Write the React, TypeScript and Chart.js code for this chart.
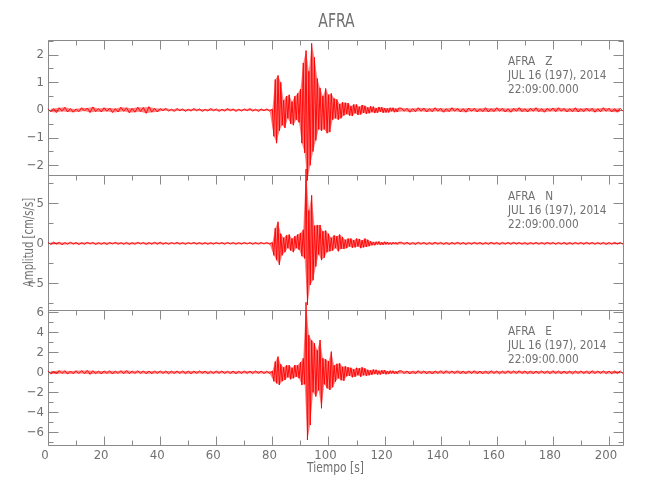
import React, { useEffect, useRef } from 'react';
import { Chart, registerables } from 'chart.js';

Chart.register(...registerables);

// ---------------- data ----------------
const TITLE = 'AFRA';
const X_TITLE = 'Tiempo [s]';
const Y_TITLE = 'Amplitud [cm/s/s]';
const STATION = 'AFRA';
const COMPONENTS = ['Z', 'N', 'E'];
const DATE_LINE = 'JUL 16 (197), 2014';
const TIME_LINE = '22:09:00.000';

const X_MIN = 0;
const X_MAX = 205;
const xTicks = [0, 20, 40, 60, 80, 100, 120, 140, 160, 180, 200];
const xMinorTicks = [10, 30, 50, 70, 90, 110, 130, 150, 170, 190];

// sampling: pre-event every 1 s from 0 s, event every 0.5 s from 80.5 s, coda every 1 s from 126 s
const PRE_START = 0;
const PRE_STEP = 1;
const EVENT_START = 80.5;
const EVENT_STEP = 0.5;
const CODA_START = 126;
const CODA_STEP = 1;

// Z component
const zRange = [-2.35, 2.53];
const zTicks = [-2, -1, 0, 1, 2];
const zMinorTicks = [-1.5, -0.5, 0.5, 1.5, 2.5];
const zPre = [
  0.04, -0.07, 0.05, -0.09, 0.08, -0.05, 0.1, -0.07, 0.05, -0.08,
  0.04, -0.06, 0.08, -0.04, 0.07, -0.09, 0.11, -0.06, 0.05, -0.07,
  0.08, -0.05, 0.07, -0.09, 0.05, -0.07, 0.1, -0.05, 0.08, -0.1,
  0.06, -0.08, 0.1, -0.06, 0.09, -0.12, 0.12, -0.08, 0.06, -0.07,
  0.05, -0.03, 0.06, -0.04, 0.03, -0.05, 0.05, -0.03, 0.04, -0.05,
  0.03, -0.04, 0.05, -0.03, 0.04, -0.05, 0.03, -0.04, 0.05, -0.03,
  0.04, -0.05, 0.03, -0.04, 0.05, -0.03, 0.04, -0.05, 0.03, -0.04,
  0.04, -0.03, 0.05, -0.04, 0.03, -0.05, 0.04, -0.03, 0.04, -0.04,
  0.03,
];
const zEvent = [
  -0.95, 1.1, -1.2, 1.25, -0.75, 1.0, -0.55, 0.35, -0.65, 0.5,
  -0.3, 0.55, -0.5, 0.3, -0.55, 0.5, -0.35, 0.6, -0.45, 0.75,
  -1.2, 1.7, -1.55, 2.15, -2.55, 1.4, -2.0, 2.41, -1.5, 1.9,
  -1.1, 1.14, -0.7, 0.8, -0.75, 0.5, -0.7, 0.78, -0.84, 0.55,
  -0.8, 0.6, -0.35, 0.42, -0.3, 0.38, -0.35, 0.22, -0.3, 0.28,
  -0.2, 0.26, -0.15, 0.25, -0.2, 0.14, -0.22, 0.2, -0.12, 0.2,
  -0.18, 0.12, -0.16, 0.18, -0.1, 0.15, -0.14, 0.09, -0.12, 0.13,
  -0.08, 0.12, -0.11, 0.07, -0.1, 0.11, -0.06, 0.1, -0.1, 0.07,
  -0.09, 0.06, -0.09, 0.08, -0.05, 0.08, -0.08, 0.05, -0.07, 0.07,
];
const zCoda = [
  0.07, -0.05, 0.06, -0.08, 0.05, -0.06, 0.08, -0.05, 0.07, -0.07,
  0.05, -0.06, 0.08, -0.05, 0.06, -0.08, 0.05, -0.06, 0.08, -0.05,
  0.06, -0.07, 0.05, -0.08, 0.07, -0.05, 0.06, -0.07, 0.05, -0.06,
  0.08, -0.07, 0.05, -0.06, 0.08, -0.05, 0.06, -0.07, 0.05, -0.08,
  0.06, -0.05, 0.08, -0.06, 0.05, -0.07, 0.06, -0.05, 0.08, -0.06,
  0.05, -0.08, 0.06, -0.05, 0.07, -0.06, 0.08, -0.05, 0.06, -0.07,
  0.05, -0.06, 0.08, -0.07, 0.05, -0.06, 0.07, -0.05, 0.06, -0.08,
  0.05, -0.06, 0.08, -0.05, 0.06, -0.07, 0.05, -0.08, 0.06, -0.05,
];

// N component
const nRange = [-8.33, 8.54];
const nTicks = [-5, 0, 5];
const nMinorTicks = [-7.5, -2.5, 2.5, 7.5];
const nPre = [
  0.12, -0.16, 0.15, -0.1, 0.14, -0.17, 0.1, -0.12, 0.14, -0.1,
  0.11, -0.14, 0.09, -0.12, 0.13, -0.09, 0.12, -0.14, 0.09, -0.12,
  0.1, -0.13, 0.12, -0.09, 0.13, -0.11, 0.09, -0.12, 0.11, -0.13,
  0.09, -0.12, 0.13, -0.09, 0.11, -0.13, 0.1, -0.11, 0.14, -0.12,
  0.15, -0.12, 0.09, -0.12, 0.1, -0.09, 0.12, -0.1, 0.09, -0.12,
  0.1, -0.09, 0.12, -0.1, 0.09, -0.11, 0.1, -0.12, 0.09, -0.1,
  0.11, -0.09, 0.1, -0.11, 0.12, -0.09, 0.1, -0.11, 0.09, -0.1,
  0.11, -0.09, 0.1, -0.12, 0.09, -0.1, 0.11, -0.09, 0.1, -0.1,
  0.1,
];
const nEvent = [
  -1.5, 1.9, -2.1, 2.7, -2.7, 1.2, -1.5, 0.7, -1.1, 1.0,
  -0.6, 1.1, -0.9, 0.6, -1.1, 0.9, -0.6, 1.1, -0.8, 1.3,
  -1.6, 1.7, -1.9, 9.3, -7.7, 4.1, -5.2, 6.0, -4.6, 2.2,
  -2.9, 2.3, -1.4, 2.3, -2.1, 1.5, -1.8, 1.6, -1.1, 1.2,
  -1.0, 0.7, -0.9, 1.0, -0.6, 0.9, -1.0, 1.1, -0.7, 0.8,
  -0.7, 0.45, -0.6, 0.6, -0.4, 0.6, -0.55, 0.4, -0.5, 0.6,
  -0.4, 0.55, -0.6, 0.4, -0.5, 0.6, -0.45, 0.45, -0.35, 0.25,
  -0.25, 0.18, -0.25, 0.2, -0.14, 0.22, -0.2, 0.14, -0.18, 0.2,
  -0.13, 0.16, -0.15, 0.11, -0.15, 0.14, -0.1, 0.13, -0.13, 0.12,
];
const nCoda = [
  0.14, -0.12, 0.13, -0.15, 0.11, -0.13, 0.14, -0.11, 0.12, -0.14,
  0.11, -0.13, 0.14, -0.11, 0.12, -0.13, 0.11, -0.14, 0.12, -0.11,
  0.13, -0.12, 0.11, -0.13, 0.1, -0.12, 0.13, -0.1, 0.12, -0.13,
  0.1, -0.12, 0.13, -0.1, 0.11, -0.13, 0.12, -0.1, 0.11, -0.12,
  0.13, -0.1, 0.11, -0.12, 0.1, -0.13, 0.11, -0.1, 0.12, -0.11,
  0.1, -0.12, 0.13, -0.1, 0.11, -0.12, 0.1, -0.11, 0.12, -0.13,
  0.1, -0.11, 0.12, -0.1, 0.11, -0.12, 0.13, -0.1, 0.11, -0.12,
  0.1, -0.11, 0.12, -0.13, 0.1, -0.11, 0.12, -0.1, 0.11, -0.12,
];

// E component
const eRange = [-7.27, 6.23];
const eTicks = [-6, -4, -2, 0, 2, 4, 6];
const eMinorTicks = [-7, -5, -3, -1, 1, 3, 5];
const ePre = [
  0.15, -0.18, 0.13, -0.16, 0.17, -0.13, 0.15, -0.18, 0.13, -0.15,
  0.16, -0.13, 0.17, -0.15, 0.19, -0.2, 0.16, -0.14, 0.13, -0.16,
  0.14, -0.12, 0.15, -0.16, 0.13, -0.12, 0.16, -0.14, 0.17, -0.14,
  0.13, -0.12, 0.15, -0.13, 0.14, -0.15, 0.12, -0.14, 0.13, -0.12,
  0.14, -0.12, 0.13, -0.15, 0.12, -0.13, 0.14, -0.12, 0.13, -0.14,
  0.12, -0.14, 0.13, -0.12, 0.14, -0.11, 0.13, -0.14, 0.11, -0.13,
  0.12, -0.11, 0.14, -0.12, 0.11, -0.13, 0.12, -0.14, 0.11, -0.12,
  0.13, -0.11, 0.12, -0.13, 0.14, -0.11, 0.12, -0.13, 0.11, -0.12,
  0.12,
];
const eEvent = [
  -0.9, 1.07, -1.1, 1.57, -1.27, 0.8, -0.9, 0.5, -0.77, 0.7,
  -0.5, 0.7, -0.7, 0.45, -0.6, 0.73, -0.45, 0.7, -0.6, 1.0,
  -1.27, 1.4, -1.2, 7.0, -6.77, 3.73, -5.27, 3.2, -2.0, 2.9,
  -2.43, 2.2, -1.8, 3.23, -3.6, 1.4, -1.2, 1.3, -1.6, 1.1,
  -1.77, 2.07, -1.5, 0.7, -0.93, 0.85, -0.6, 0.9, -0.8, 0.55,
  -0.85, 0.6, -0.4, 0.5, -0.35, 0.45, -0.5, 0.3, -0.45, 0.45,
  -0.3, 0.4, -0.45, 0.5, -0.3, 0.4, -0.35, 0.25, -0.3, 0.2,
  -0.25, 0.28, -0.18, 0.25, -0.22, 0.16, -0.22, 0.2, -0.15, 0.22,
  -0.2, 0.13, -0.18, 0.16, -0.12, 0.15, -0.15, 0.1, -0.14, 0.14,
];
const eCoda = [
  0.15, -0.13, 0.14, -0.16, 0.12, -0.14, 0.16, -0.13, 0.14, -0.15,
  0.13, -0.16, 0.14, -0.12, 0.15, -0.14, 0.16, -0.12, 0.14, -0.13,
  0.15, -0.14, 0.12, -0.15, 0.14, -0.12, 0.15, -0.14, 0.12, -0.15,
  0.13, -0.14, 0.15, -0.12, 0.13, -0.15, 0.12, -0.13, 0.15, -0.12,
  0.14, -0.12, 0.15, -0.13, 0.12, -0.14, 0.13, -0.15, 0.12, -0.13,
  0.14, -0.12, 0.13, -0.14, 0.15, -0.12, 0.13, -0.14, 0.12, -0.13,
  0.12, -0.15, 0.13, -0.12, 0.14, -0.13, 0.12, -0.14, 0.15, -0.12,
  0.13, -0.12, 0.14, -0.13, 0.12, -0.15, 0.13, -0.12, 0.14, -0.13,
];

// ---------------- styling ----------------
const FONT = "'DejaVu Sans Condensed', 'Liberation Sans', sans-serif";
const TEXT_COLOR = '#707070';
const FRAME_COLOR = '#8a8a8a';
const TRACE_COLOR = 'rgba(255,0,0,0.92)';
const ENVELOPE_COLOR = 'rgba(255,30,30,0.55)';

type Pt = { x: number; y: number };

function buildSeries(pre: number[], ev: number[], coda: number[]) {
  const pts: Pt[] = [];
  pre.forEach((v, i) => pts.push({ x: PRE_START + PRE_STEP * i, y: v }));
  ev.forEach((v, i) => pts.push({ x: EVENT_START + EVENT_STEP * i, y: v }));
  coda.forEach((v, i) => pts.push({ x: CODA_START + CODA_STEP * i, y: v }));
  return pts;
}

const fmt = (v: number) => (v < 0 ? '\u2212' + Math.abs(v) : String(v));

const panels = [
  { id: 'yZ', range: zRange, ticks: zTicks, minor: zMinorTicks, weight: 3 },
  { id: 'yN', range: nRange, ticks: nTicks, minor: nMinorTicks, weight: 2 },
  { id: 'yE', range: eRange, ticks: eTicks, minor: eMinorTicks, weight: 1 },
];

function drawNarrowText(ctx: CanvasRenderingContext2D, text: string, x: number, y: number, sx: number, rot = 0) {
  ctx.save();
  ctx.translate(x, y);
  if (rot) ctx.rotate(rot);
  ctx.scale(sx, 1);
  ctx.fillText(text, 0, 0);
  ctx.restore();
}

const framePlugin = {
  id: 'seisFrame',
  beforeDatasetsDraw(chart: any) {
    const { ctx, chartArea } = chart;
    const xs = chart.scales.x;
    const L = Math.round(chartArea.left) + 0.5;
    const R = Math.round(chartArea.right) + 0.5;
    ctx.save();
    ctx.strokeStyle = FRAME_COLOR;
    ctx.lineWidth = 1;
    panels.forEach((p, idx) => {
      const s = chart.scales[p.id];
      const top = Math.round(s.top) + 0.5;
      const bot = Math.round(s.bottom) + 0.5;
      ctx.beginPath();
      ctx.rect(L, top, R - L, bot - top);
      ctx.stroke();
      const drawX = (y0: number, dir: number) => {
        xTicks.forEach((v) => {
          const x = Math.round(xs.getPixelForValue(v)) + 0.5;
          ctx.beginPath();
          ctx.moveTo(x, y0);
          ctx.lineTo(x, y0 + dir * 9);
          ctx.stroke();
        });
        xMinorTicks.forEach((v) => {
          const x = Math.round(xs.getPixelForValue(v)) + 0.5;
          ctx.beginPath();
          ctx.moveTo(x, y0);
          ctx.lineTo(x, y0 + dir * 5);
          ctx.stroke();
        });
      };
      drawX(top, 1);
      if (idx === panels.length - 1) drawX(bot, -1);
      const drawY = (vals: number[], len: number) => {
        vals.forEach((v) => {
          const y = Math.round(s.getPixelForValue(v)) + 0.5;
          if (y < top - 0.1 || y > bot + 0.1) return;
          ctx.beginPath();
          ctx.moveTo(L, y);
          ctx.lineTo(L + len, y);
          ctx.moveTo(R, y);
          ctx.lineTo(R - len, y);
          ctx.stroke();
        });
      };
      drawY(p.ticks, 10);
      drawY(p.minor, 5);
    });
    ctx.restore();
  },
  afterDraw(chart: any) {
    const { ctx, chartArea } = chart;
    const cx = (chartArea.left + chartArea.right) / 2;
    ctx.save();
    ctx.fillStyle = TEXT_COLOR;
    ctx.textAlign = 'center';
    ctx.textBaseline = 'middle';
    ctx.font = `20px ${FONT}`;
    drawNarrowText(ctx, TITLE, cx + 1, 22, 0.78);
    ctx.font = `14px ${FONT}`;
    drawNarrowText(ctx, X_TITLE, cx, 468, 0.85);
    ctx.font = `14px ${FONT}`;
    drawNarrowText(ctx, Y_TITLE, 29, (chartArea.top + chartArea.bottom) / 2, 0.8, -Math.PI / 2);
    ctx.textAlign = 'left';
    ctx.font = `13px ${FONT}`;
    panels.forEach((p, idx) => {
      const s = chart.scales[p.id];
      const x = chartArea.right - 115;
      drawNarrowText(ctx, `${STATION}   ${COMPONENTS[idx]}`, x, s.top + 22, 0.9);
      drawNarrowText(ctx, DATE_LINE, x, s.top + 35.5, 0.9);
      drawNarrowText(ctx, TIME_LINE, x, s.top + 49.5, 0.9);
    });
    ctx.restore();
  },
};

export default function App() {
  const canvasRef = useRef<HTMLCanvasElement | null>(null);

  useEffect(() => {
    const canvas = canvasRef.current;
    if (!canvas) return;
    const series = [
      buildSeries(zPre, zEvent, zCoda),
      buildSeries(nPre, nEvent, nCoda),
      buildSeries(ePre, eEvent, eCoda),
    ];

    const datasets: any[] = [];
    series.forEach((d, i) => {
      const upper = d.filter((p) => p.y >= 0);
      const lower = d.filter((p) => p.y < 0);
      datasets.push({
        data: d,
        yAxisID: panels[i].id,
        borderColor: TRACE_COLOR,
        borderWidth: 1,
        pointRadius: 0,
        tension: 0,
        fill: false,
        clip: false,
        order: 0,
      });
      datasets.push({
        data: upper,
        yAxisID: panels[i].id,
        borderColor: 'rgba(0,0,0,0)',
        borderWidth: 0,
        pointRadius: 0,
        tension: 0,
        backgroundColor: ENVELOPE_COLOR,
        fill: '+1',
        order: 1,
      });
      datasets.push({
        data: lower,
        yAxisID: panels[i].id,
        borderColor: 'rgba(0,0,0,0)',
        borderWidth: 0,
        pointRadius: 0,
        tension: 0,
        fill: false,
        order: 1,
      });
    });

    const yScales: any = {};
    panels.forEach((p) => {
      yScales[p.id] = {
        type: 'linear',
        position: 'left',
        stack: 'panels',
        stackWeight: 1,
        weight: p.weight,
        min: p.range[0],
        max: p.range[1],
        grid: { display: false, drawTicks: false },
        border: { display: false },
        afterBuildTicks: (s: any) => {
          s.ticks = p.ticks.map((v) => ({ value: v }));
        },
        afterFit: (s: any) => {
          s.width = 48;
        },
        ticks: {
          autoSkip: false,
          padding: 4,
          color: TEXT_COLOR,
          font: { family: FONT, size: 13 },
          callback: (v: any) => fmt(Number(v)),
        },
      };
    });

    const chart = new Chart(canvas, {
      type: 'line',
      data: { datasets },
      options: {
        animation: false,
        responsive: false,
        maintainAspectRatio: false,
        layout: { padding: { top: 40, right: 27, bottom: 0, left: 0 } },
        plugins: {
          legend: { display: false },
          tooltip: { enabled: false },
          title: { display: false },
          filler: { propagate: false },
        },
        scales: {
          x: {
            type: 'linear',
            position: 'bottom',
            min: X_MIN,
            max: X_MAX,
            grid: { display: false, drawTicks: false },
            border: { display: false },
            afterBuildTicks: (s: any) => {
              s.ticks = xTicks.map((v) => ({ value: v }));
            },
            afterFit: (s: any) => {
              s.height = 55;
            },
            ticks: {
              autoSkip: false,
              maxRotation: 0,
              padding: 3,
              labelOffset: -3,
              color: TEXT_COLOR,
              font: { family: FONT, size: 13 },
              callback: (v: any) => String(v),
            },
          },
          ...yScales,
        },
      } as any,
      plugins: [framePlugin],
    });

    return () => chart.destroy();
  }, []);

  return (
    <div style={{ position: 'fixed', left: 0, top: 0, width: 650, height: 500, background: '#fff' }}>
      <canvas ref={canvasRef} width={650} height={500} style={{ display: 'block' }} />
    </div>
  );
}
